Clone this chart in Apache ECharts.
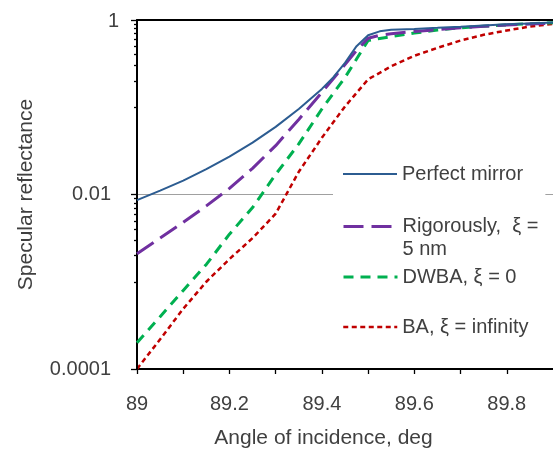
<!DOCTYPE html>
<html>
<head>
<meta charset="utf-8">
<script src="https://cdn.jsdelivr.net/npm/echarts@6/dist/echarts.min.js"></script>
<style>
  html, body { margin: 0; padding: 0; background: #fff; }
  #chart { width: 553px; height: 454px; }
</style>
</head>
<body>
<div id="chart"></div>
<script>
// ---- data ----
const angles = [89.00, 89.05, 89.10, 89.15, 89.20, 89.25, 89.30, 89.35, 89.40, 89.425, 89.45, 89.475, 89.50, 89.525, 89.55, 89.60, 89.65, 89.70, 89.75, 89.80, 89.85, 89.90];
const perfectMirror = [0.00861, 0.01109, 0.01445, 0.0195, 0.02723, 0.03936, 0.05957, 0.0955, 0.1622, 0.2213, 0.3236, 0.501, 0.668, 0.741, 0.771, 0.789, 0.813, 0.839, 0.867, 0.891, 0.912, 0.935];
const rigorous = [0.00209, 0.00316, 0.00479, 0.00741, 0.01175, 0.01995, 0.0363, 0.0724, 0.148, 0.214, 0.309, 0.447, 0.617, 0.668, 0.695, 0.740, 0.776, 0.813, 0.847, 0.875, 0.900, 0.920];
const dwba = [0.000200, 0.000398, 0.000794, 0.00158, 0.00351, 0.00708, 0.0170, 0.0380, 0.0955, 0.145, 0.219, 0.357, 0.582, 0.614, 0.646, 0.708, 0.767, 0.813, 0.847, 0.879, 0.908, 0.933];
const ba = [0.000100, 0.000219, 0.000490, 0.00100, 0.00182, 0.00316, 0.00603, 0.0182, 0.0447, 0.0676, 0.102, 0.146, 0.209, 0.248, 0.295, 0.389, 0.479, 0.582, 0.676, 0.759, 0.841, 0.902];

const seriesNames = ['Perfect mirror', 'Rigorously,  ξ = 5 nm', 'DWBA, ξ = 0', 'BA, ξ = infinity'];

const xTicks = [89, 89.2, 89.4, 89.6, 89.8];
const xTickLabels = ['89', '89.2', '89.4', '89.6', '89.8'];
const xMinorTicks = [89, 89.1, 89.2, 89.3, 89.4, 89.5, 89.6, 89.7, 89.8];
const yTicks = [0.0001, 0.01, 1];
const yTickLabels = ['0.0001', '0.01', '1'];
const yMinorTicks = [0.001, 0.002, 0.003, 0.004, 0.005, 0.006, 0.007, 0.008, 0.009,
                     0.1, 0.2, 0.3, 0.4, 0.5, 0.6, 0.7, 0.8, 0.9];
const yGridTicks = [0.01];

// ---- chart ----
const FONT = "'Liberation Sans', Arial, sans-serif";
const TXT = '#404040';
const chart = echarts.init(document.getElementById('chart'), null, { renderer: 'canvas' });

function pairs(vals) { return angles.map((a, i) => [a, vals[i]]); }
function labelIndex(ticks, v) {
  let best = 0;
  for (let i = 1; i < ticks.length; i++) {
    if (Math.abs(Math.log(ticks[i] / v)) < Math.abs(Math.log(ticks[best] / v))) best = i;
  }
  return best;
}
function xLabelIndex(v) {
  let best = 0;
  for (let i = 1; i < xTicks.length; i++) {
    if (Math.abs(xTicks[i] - v) < Math.abs(xTicks[best] - v)) best = i;
  }
  return best;
}

const legendBase = {
  orient: 'vertical',
  left: 333,
  itemWidth: 54,
  itemHeight: 2,
  selectedMode: false,
  backgroundColor: '#ffffff',
  padding: [0, 7, 0, 9],
  itemStyle: { opacity: 0 },
  lineStyle: { width: 'inherit', type: 'inherit', opacity: 1 },
  textStyle: { fontSize: 20, color: TXT, fontFamily: FONT, lineHeight: 22 }
};

const option = {
  animation: false,
  backgroundColor: '#ffffff',
  grid: { left: 137, top: 20, right: -3, bottom: 79, containLabel: false },
  legend: [
    Object.assign({}, legendBase, { top: 163, data: [seriesNames[0]] }),
    Object.assign({}, legendBase, {
      top: 192, data: [seriesNames[1]],
      formatter: () => '\nRigorously,  ξ =\n5 nm',
      textStyle: { fontSize: 20, color: TXT, fontFamily: FONT, lineHeight: 23 }
    }),
    Object.assign({}, legendBase, { top: 266, data: [seriesNames[2]] }),
    Object.assign({}, legendBase, { top: 316, data: [seriesNames[3]] })
  ],
  xAxis: [
    {
      type: 'value', min: 89, max: 89.9, position: 'bottom',
      axisLine: { show: true, onZero: false, lineStyle: { color: '#000', width: 2 } },
      axisTick: { show: true, customValues: xMinorTicks, length: 5, lineStyle: { color: '#000', width: 1.3 } },
      axisLabel: {
        customValues: xTicks,
        formatter: (v) => xTickLabels[xLabelIndex(v)],
        margin: 25, fontSize: 20, color: TXT, fontFamily: FONT
      },
      splitLine: { show: false },
      name: 'Angle of incidence, deg', nameLocation: 'middle', nameGap: 59,
      nameTextStyle: { fontSize: 21, color: TXT, fontFamily: FONT, padding: [0, 43, 0, 0] }
    },
    {
      type: 'value', min: 89, max: 89.9, position: 'top',
      axisLine: { show: true, onZero: false, lineStyle: { color: '#000', width: 2 } },
      axisTick: { show: false }, axisLabel: { show: false }, splitLine: { show: false }
    }
  ],
  yAxis: [
    {
      type: 'log', logBase: 10, min: 0.0001, max: 1, position: 'left', z: 3,
      axisLine: { show: true, lineStyle: { color: '#000', width: 2 } },
      axisTick: { show: true, customValues: yTicks, length: 6, lineStyle: { color: '#000', width: 1.3 } },
      axisLabel: {
        customValues: yTicks,
        formatter: (v) => {
          const i = labelIndex(yTicks, v);
          return yTickLabels[i] === '1' ? '{one|1}' : '{p|' + yTickLabels[i] + '}';
        },
        margin: 18, fontSize: 20, color: TXT, fontFamily: FONT,
        rich: {
          p: { fontSize: 20, color: TXT, fontFamily: FONT, padding: [0, 8, 0, 0] },
          one: { fontSize: 20, color: TXT, fontFamily: FONT, padding: [3, 0, 0, 0] }
        }
      },
      splitLine: { show: false },
      name: 'Specular reflectance', nameLocation: 'middle', nameGap: 100, nameRotate: 90,
      nameTextStyle: { fontSize: 21, color: TXT, fontFamily: FONT }
    },
    {
      type: 'log', logBase: 10, min: 0.0001, max: 1, position: 'left',
      axisLine: { show: false },
      axisTick: { show: true, customValues: yMinorTicks, length: 3, lineStyle: { color: '#000', width: 1.3 } },
      axisLabel: { show: false }, splitLine: { show: false }
    },
    {
      type: 'log', logBase: 10, min: 0.0001, max: 1, position: 'left', z: 0,
      axisLine: { show: false },
      axisTick: { show: false, customValues: yGridTicks },
      axisLabel: { show: false },
      splitLine: { show: true, lineStyle: { color: '#a0a0a0', width: 1 } }
    }
  ],
  series: [
    {
      name: seriesNames[0], type: 'line', data: pairs(perfectMirror), symbol: 'none',
      lineStyle: { color: '#2C5C91', width: 2, type: 'solid' }, itemStyle: { color: '#2C5C91' }, z: 5
    },
    {
      name: seriesNames[1], type: 'line', data: pairs(rigorous), symbol: 'none',
      lineStyle: { color: '#7030A0', width: 3, type: [20, 8] }, itemStyle: { color: '#7030A0' }, z: 4
    },
    {
      name: seriesNames[2], type: 'line', data: pairs(dwba), symbol: 'none',
      lineStyle: { color: '#00B050', width: 3, type: [10, 7] }, itemStyle: { color: '#00B050' }, z: 3
    },
    {
      name: seriesNames[3], type: 'line', data: pairs(ba), symbol: 'none',
      lineStyle: { color: '#C00000', width: 2.5, type: [5, 3.5] }, itemStyle: { color: '#C00000' }, z: 2
    }
  ]
};
chart.setOption(option);
</script>
</body>
</html>
